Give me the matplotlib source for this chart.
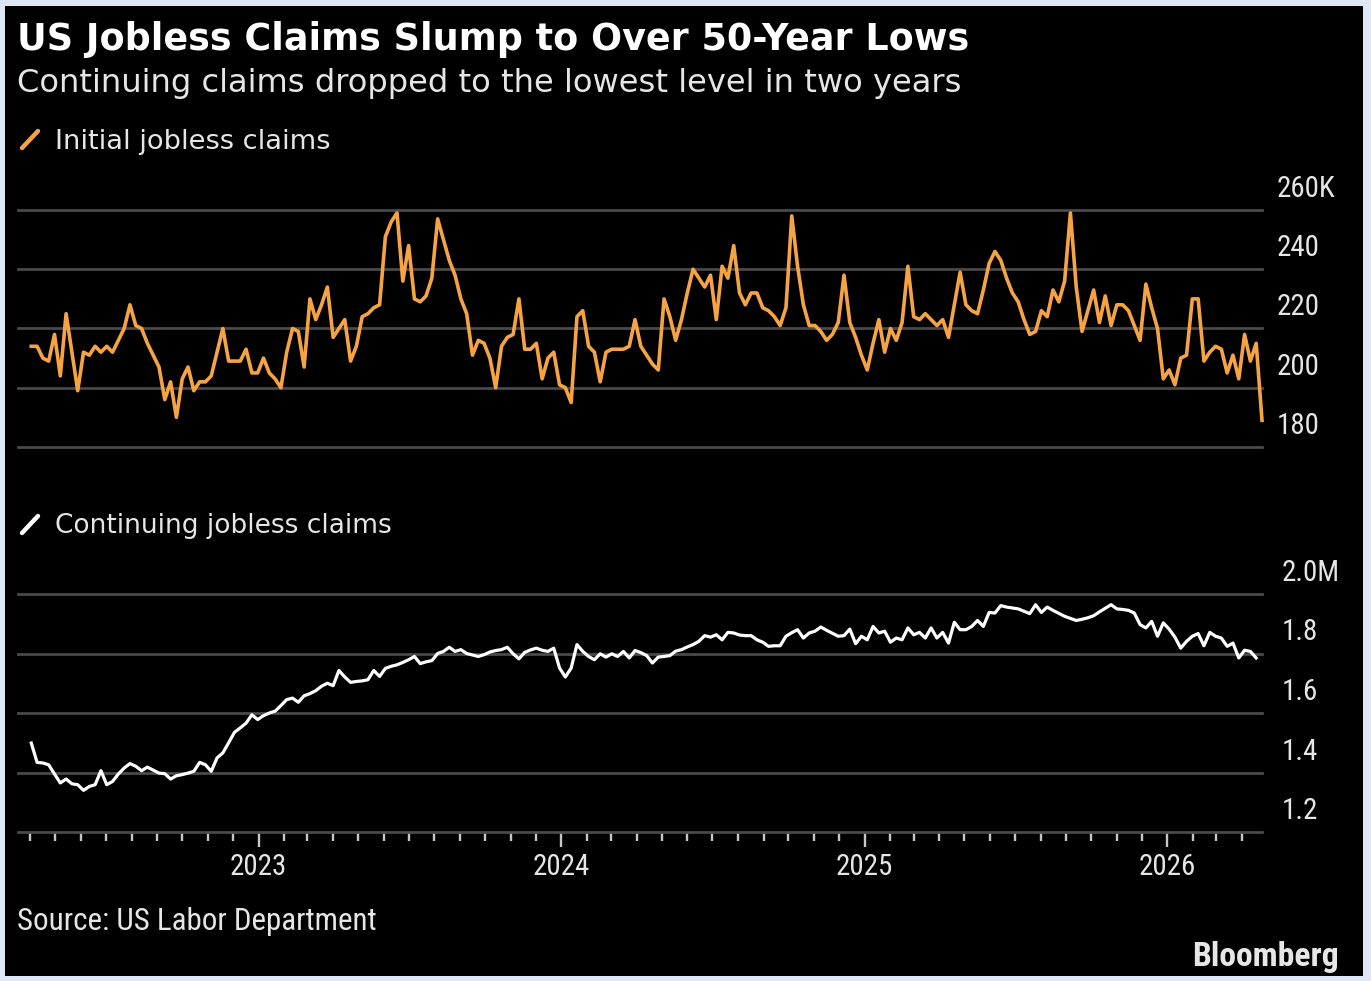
import numpy as np
import pandas as pd
import matplotlib
matplotlib.use('Agg')
import matplotlib.pyplot as plt
import matplotlib.dates as mdates
import matplotlib.transforms as mtransforms
from matplotlib import font_manager
from matplotlib.lines import Line2D
from matplotlib.patches import Rectangle

# ---------------- data (weekly) ----------------
start_date = '2022-04-02'
initial_claims_k = [
    214, 214, 210, 209, 218, 204, 225, 212, 199, 212,
    211, 214, 212, 214, 212, 216, 220, 228, 221, 220,
    215, 211, 207, 196, 202, 190, 203, 207, 199, 202,
    202, 204, 212, 220, 209, 209, 209, 213, 205, 205,
    210, 205, 203, 200, 212, 220, 219, 207, 230, 223,
    228, 234, 217, 220, 223, 209, 214, 224, 225, 227,
    228, 251, 256, 259, 236, 248, 230, 229, 231, 237,
    257, 250, 243, 238, 230, 225, 211, 216, 215, 210,
    200, 214, 217, 218, 230, 213, 213, 215, 203, 210,
    212, 201, 200, 195, 224, 226, 214, 212, 202, 212,
    213, 213, 213, 214, 223, 214, 211, 208, 206, 230,
    224, 216, 223, 232, 240, 237, 234, 238, 223, 241,
    237, 248, 232, 228, 232, 232, 227, 226, 224, 221,
    227, 258, 241, 228, 221, 221, 219, 216, 218, 222,
    238, 222, 217, 211, 206, 215, 223, 212, 220, 216,
    222, 241, 224, 223, 225, 223, 221, 223, 217, 228,
    239, 228, 226, 225, 233, 242, 246, 243, 237, 232,
    229, 223, 218, 219, 226, 224, 233, 229, 236, 259,
    234, 219, 226, 233, 222, 231, 221, 228, 228, 226,
    221, 216, 235, 227, 220, 203, 206, 201, 210, 211,
    230, 230, 209, 212, 214, 213, 205, 211, 203, 218,
    209, 215, 189,
]
continuing_claims_k = [
    1499, 1434, 1432, 1426, 1395, 1365, 1378, 1362, 1359, 1340,
    1353, 1359, 1406, 1359, 1370, 1395, 1415, 1430, 1421, 1406,
    1418, 1408, 1398, 1396, 1378, 1389, 1393, 1398, 1404, 1434,
    1426, 1404, 1449, 1466, 1500, 1535, 1550, 1566, 1594, 1578,
    1591, 1600, 1606, 1625, 1645, 1650, 1636, 1658, 1665, 1675,
    1690, 1700, 1692, 1743, 1721, 1703, 1706, 1708, 1712, 1743,
    1723, 1750, 1757, 1762, 1770, 1779, 1790, 1766, 1772, 1776,
    1800, 1807, 1821, 1807, 1813, 1800, 1795, 1790, 1796, 1805,
    1810, 1813, 1821, 1799, 1782, 1804, 1812, 1818, 1811, 1807,
    1818, 1751, 1721, 1751, 1830, 1807, 1790, 1779, 1799, 1788,
    1799, 1790, 1807, 1785, 1810, 1803, 1793, 1768, 1788, 1790,
    1793, 1808, 1813, 1822, 1830, 1841, 1860, 1855, 1863, 1846,
    1871, 1869, 1862, 1860, 1860, 1846, 1838, 1824, 1826, 1826,
    1858, 1870, 1880, 1852, 1869, 1875, 1889, 1878, 1868, 1858,
    1860, 1882, 1833, 1858, 1846, 1891, 1869, 1875, 1838, 1852,
    1846, 1886, 1863, 1871, 1852, 1886, 1852, 1871, 1835, 1905,
    1880, 1880, 1891, 1911, 1891, 1938, 1936, 1961, 1956, 1953,
    1950, 1942, 1934, 1964, 1938, 1956, 1945, 1935, 1925, 1918,
    1911, 1915, 1920, 1927, 1940, 1952, 1964, 1950, 1948, 1945,
    1936, 1897, 1886, 1908, 1858, 1903, 1882, 1855, 1818, 1841,
    1858, 1867, 1826, 1871, 1858, 1852, 1824, 1835, 1785, 1811,
    1807, 1785,
]
initial_ticks = [180, 200, 220, 240, 260]
initial_tick_labels = ['180', '200', '220', '240', '260K']
continuing_ticks = [1200, 1400, 1600, 1800, 2000]
continuing_tick_labels = ['1.2', '1.4', '1.6', '1.8', '2.0M']

dates_initial = pd.date_range(start_date, periods=len(initial_claims_k), freq='W-SAT')
dates_continuing = dates_initial[:len(continuing_claims_k)]

# ---------------- styling ----------------
W, H = 1371, 981
BORDER = '#dde8f4'
ORANGE = '#f6a343'
GRID = '#4a4a4a'
TXT = '#e6e6e6'

fonts = font_manager.fontManager.ttflist
names = {f.name for f in fonts}
narrow_stretch = None
if 'Liberation Sans Narrow' in names:
    NARROW, NSCALE = 'Liberation Sans Narrow', 1.0
elif 'Roboto Condensed' in names:
    NARROW, NSCALE = 'Roboto Condensed', 0.95
elif any(f.name == 'DejaVu Sans' and str(f.stretch) in ('condensed', '75', 'semi-condensed')
         for f in fonts):
    NARROW, NSCALE, narrow_stretch = 'DejaVu Sans', 0.9, 'condensed'
else:
    NARROW, NSCALE = 'Liberation Sans', 0.84
REG = 'DejaVu Sans'

def nfont(**kw):
    d = dict(family=NARROW)
    if narrow_stretch:
        d['fontstretch'] = narrow_stretch
    d.update(kw)
    return d

fig = plt.figure(figsize=(W / 100, H / 100), dpi=100)
fig.patch.set_facecolor(BORDER)
fig.patches.append(Rectangle((5 / W, 1 - 976 / H), (1363 - 5) / W, (976 - 6) / H,
                             transform=fig.transFigure, facecolor='black',
                             edgecolor='none', zorder=-5))

def fx(px):
    return px / W

def fy(py):
    return 1 - py / H

x_left, x_right = 18, 1262
ax1 = fig.add_axes([fx(x_left), fy(447), (x_right - x_left) / W, (447 - 210) / H])
ax2 = fig.add_axes([fx(x_left), fy(832), (x_right - x_left) / W, (832 - 594) / H])

xlim = (pd.Timestamp('2022-03-17'), pd.Timestamp('2026-04-25'))
TICK_FS = 22 * NSCALE

for ax, ticks, labels, xoff in ((ax1, initial_ticks, initial_tick_labels, 15),
                                (ax2, continuing_ticks, continuing_tick_labels, 20)):
    ax.set_facecolor('none')
    for s in ax.spines.values():
        s.set_visible(False)
    ax.set_xlim(*xlim)
    ax.set_ylim(ticks[0], ticks[-1])
    ax.set_yticks(ticks)
    ax.yaxis.grid(True, color=GRID, lw=2.0)
    ax.set_axisbelow(True)
    ax.tick_params(axis='y', length=0, labelleft=False, labelright=False)
    for gl in ax.get_ygridlines():
        gl.set_clip_on(False)
    trans = mtransforms.blended_transform_factory(ax.transAxes, ax.transData) + \
        mtransforms.ScaledTranslation(xoff / 100, 13 / 100, fig.dpi_scale_trans)
    for v, lab in zip(ticks, labels):
        ax.text(1.0, v, lab, transform=trans, ha='left', va='baseline',
                fontsize=TICK_FS, color=TXT, **nfont())

ax1.plot(dates_initial, initial_claims_k, color=ORANGE, lw=2.6, clip_on=False,
         solid_joinstyle='round', zorder=3)
ax2.plot(dates_continuing, continuing_claims_k, color='white', lw=2.3, clip_on=False,
         solid_joinstyle='round', zorder=3)

ax1.tick_params(axis='x', length=0, labelbottom=False)

ax2.xaxis.set_major_locator(mdates.YearLocator())
ax2.xaxis.set_major_formatter(mdates.DateFormatter('%Y'))
ax2.xaxis.set_minor_locator(mdates.MonthLocator())
ax2.tick_params(axis='x', which='major', length=11, width=1.7, color='#c8c8c8',
                pad=4, labelsize=TICK_FS, labelcolor=TXT, direction='out')
ax2.tick_params(axis='x', which='minor', length=6.5, width=1.7, color='#c8c8c8',
                direction='out')
for lab in ax2.get_xticklabels():
    lab.set_family(NARROW)
    if narrow_stretch:
        lab.set_fontstretch(narrow_stretch)

# ---------------- texts ----------------
fig.text(fx(17), fy(50), 'US Jobless Claims Slump to Over 50-Year Lows',
         fontsize=26.3, fontweight='bold', color='white', family=REG, va='baseline')
fig.text(fx(17), fy(92), 'Continuing claims dropped to the lowest level in two years',
         fontsize=23.1, color=TXT, family=REG, va='baseline')

fig.text(fx(55), fy(149), 'Initial jobless claims', fontsize=19.6, color=TXT,
         family=REG, va='baseline')
fig.lines.append(Line2D([fx(22), fx(38)], [fy(148), fy(131)], transform=fig.transFigure,
                        color=ORANGE, lw=3.2, solid_capstyle='round'))
fig.text(fx(55), fy(533), 'Continuing jobless claims', fontsize=19.0, color=TXT,
         family=REG, va='baseline')
fig.lines.append(Line2D([fx(22), fx(38)], [fy(533), fy(516)], transform=fig.transFigure,
                        color='white', lw=3.2, solid_capstyle='round'))

fig.text(fx(17), fy(930), 'Source: US Labor Department', fontsize=22 * NSCALE * 1.07,
         color=TXT, va='baseline', **nfont())
fig.text(fx(1339), fy(966), 'Bloomberg', fontsize=25.5 * NSCALE, color=TXT,
         fontweight='bold', va='baseline', ha='right', **nfont())

fig.savefig('out.png', dpi=100, facecolor=fig.get_facecolor())
